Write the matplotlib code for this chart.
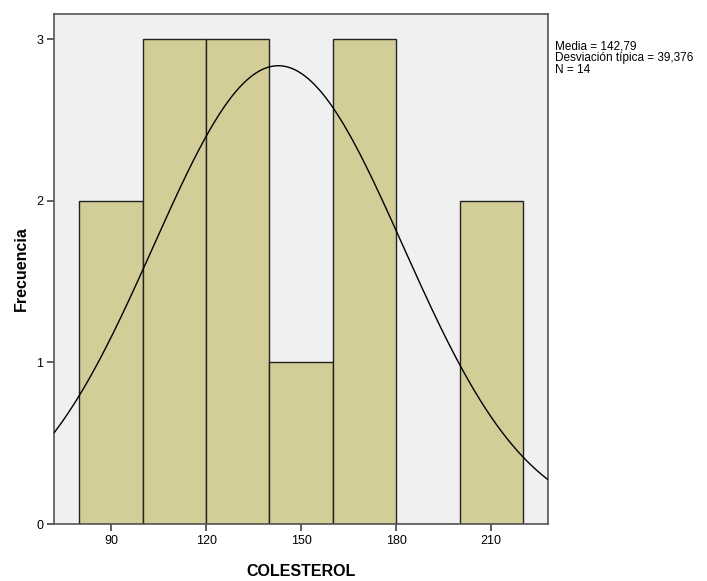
import numpy as np
import matplotlib.pyplot as plt

plt.rcParams['font.family'] = ['Liberation Sans', 'DejaVu Sans']

bin_edges = [80, 100, 120, 140, 160, 180, 200, 220]
counts = [2, 3, 3, 1, 3, 0, 2]
media = 142.79
desv = 39.376
n = 14
xticks = [90, 120, 150, 180, 210]
yticks = [0, 1, 2, 3]

fig = plt.figure(figsize=(7.07, 5.81), dpi=100)
ax = fig.add_axes([0.0768, 0.0981, 0.6979, 0.8778])
ax.set_facecolor('#f0f0f0')

lefts = bin_edges[:-1]
widths = np.diff(bin_edges)
ax.bar(lefts, counts, width=widths, align='edge', color='#d3ce98',
       edgecolor='#222222', linewidth=1.0, zorder=2)

# normal curve scaled to counts
xs = np.linspace(72.1, 227.8, 400)
bw = widths[0]
ys = n * bw / (desv * np.sqrt(2 * np.pi)) * np.exp(-0.5 * ((xs - media) / desv) ** 2)
ax.plot(xs, ys, color='black', linewidth=1.0, zorder=3)

ax.set_xlim(72.1, 227.8)
ax.set_ylim(0, 3.157)
ax.set_xticks(xticks)
ax.set_yticks(yticks)
ax.tick_params(direction='out', length=5, width=1.2, color='#444444',
               labelsize=9, pad=3)
for s in ax.spines.values():
    s.set_color('#555555')
    s.set_linewidth(1.2)

ax.set_xlabel('COLESTEROL', fontsize=11.5, fontweight='bold', labelpad=12)
ax.set_ylabel('Frecuencia', fontsize=11.5, fontweight='bold', labelpad=5)

fig.text(0.785, 0.93, 'Media = %s\nDesviación típica = %s\nN = %d'
         % (f'{media:.2f}'.replace('.', ','), f'{desv:.3f}'.replace('.', ','), n),
         fontsize=8.5, va='top', ha='left', linespacing=0.95)

fig.savefig('out.png', dpi=100)
